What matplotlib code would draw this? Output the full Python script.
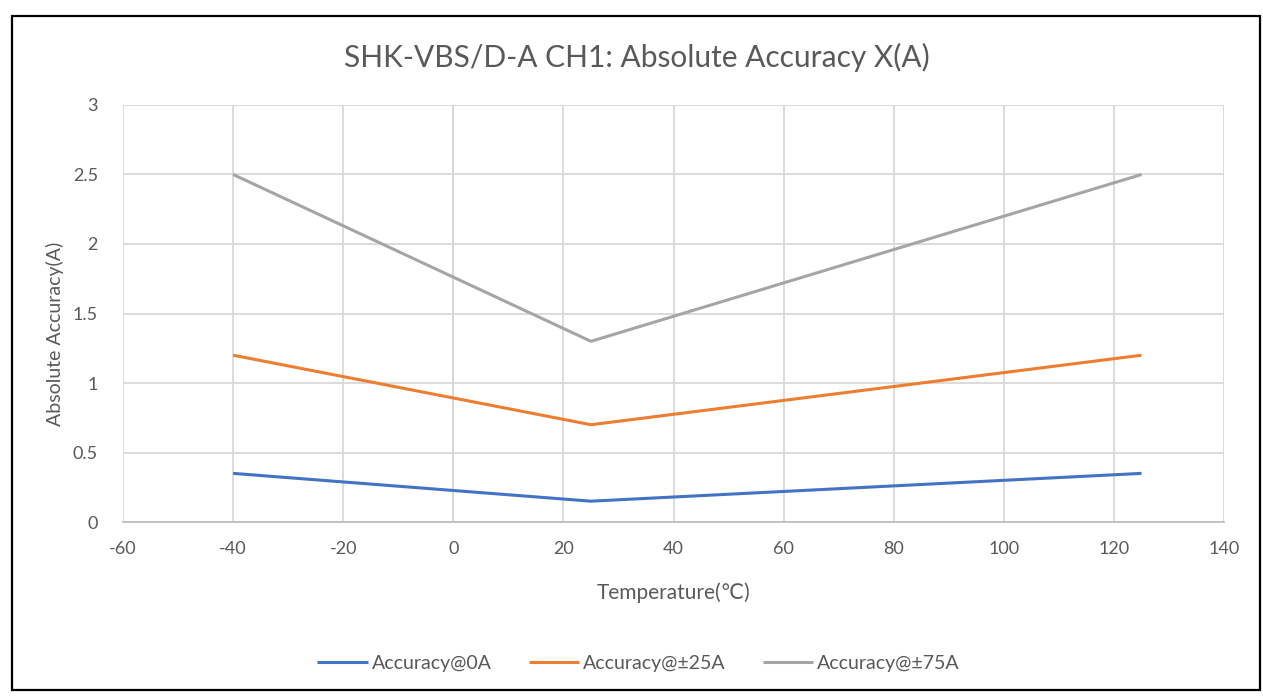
import matplotlib.pyplot as plt
from matplotlib.patches import Rectangle

plt.rcParams['font.family'] = ['Lato', 'DejaVu Sans']
plt.rcParams['axes.unicode_minus'] = False

temps = [-40, 25, 125]
acc_0a = [0.35, 0.15, 0.35]
acc_25a = [1.2, 0.7, 1.2]
acc_75a = [2.5, 1.3, 2.5]
series_names = ['Accuracy@0A', 'Accuracy@±25A', 'Accuracy@±75A']
series_colors = ['#4472C4', '#ED7D31', '#A5A5A5']

text_color = '#595959'

fig = plt.figure(figsize=(12.63, 6.98), dpi=100)
ax = fig.add_axes([0.0974, 0.2521, 0.8718, 0.5975])

for vals, name, col in zip([acc_0a, acc_25a, acc_75a], series_names, series_colors):
    ax.plot(temps, vals, color=col, lw=2.2, label=name, solid_capstyle='butt', zorder=3)

ax.set_xlim(-60, 140)
ax.set_ylim(0, 3)
ax.set_xticks(range(-60, 141, 20))
ax.set_yticks([0, 0.5, 1, 1.5, 2, 2.5, 3])
ax.set_yticklabels(['0', '0.5', '1', '1.5', '2', '2.5', '3'])
ax.grid(True, color='#D9D9D9', lw=1.3, zorder=0)
ax.axvline(0, color='#BFBFBF', lw=1.3, zorder=1)
for side in ['top', 'left', 'right']:
    ax.spines[side].set_visible(False)
ax.spines['bottom'].set_color('#BFBFBF')
ax.spines['bottom'].set_linewidth(1.3)
ax.tick_params(length=0, labelsize=13, labelcolor=text_color, pad=14)
ax.tick_params(axis='y', pad=18)

ax.set_xlabel('Temperature(℃)', fontsize=15, color=text_color, labelpad=18)
ax.set_ylabel('Absolute Accuracy(A)', fontsize=14, color=text_color)
ax.yaxis.set_label_coords(-0.054, 0.45)
fig.text(0.504, 0.918, 'SHK-VBS/D-A CH1: Absolute Accuracy X(A)', ha='center', va='center',
         fontsize=21.5, color=text_color)

fig.legend(loc='center', bbox_to_anchor=(0.5055, 0.05), ncol=3, frameon=False,
           fontsize=14, labelcolor=text_color, handlelength=2.6, handletextpad=0.2,
           columnspacing=1.9)

fig.patches.append(Rectangle((0.0095, 0.0115), 0.988, 0.966, transform=fig.transFigure,
                             fill=False, edgecolor='black', lw=1.6))

fig.savefig('out.png', dpi=100)
